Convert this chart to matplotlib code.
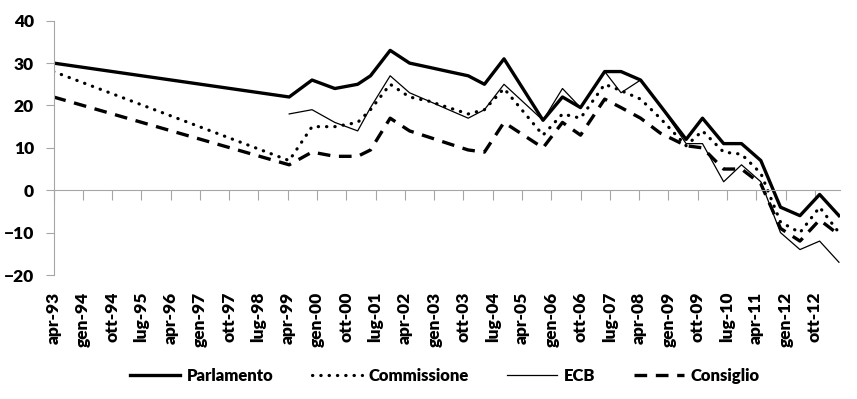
import matplotlib
matplotlib.use("Agg")
import matplotlib.pyplot as plt
import matplotlib.dates as mdates
import numpy as np
import pandas as pd

plt.rcParams["font.family"] = ["Lato", "DejaVu Sans"]

# survey dates
dates = [
    "1993-04-01", "1999-04-15", "1999-11-15", "2000-06-15", "2001-01-15",
    "2001-05-15", "2001-11-15", "2002-05-15", "2002-11-15", "2003-05-15",
    "2003-11-15", "2004-04-15", "2004-10-15", "2005-10-15", "2006-04-15",
    "2006-10-01", "2007-05-15", "2007-10-15", "2008-04-15", "2008-10-15",
    "2009-06-15", "2009-11-15", "2010-06-01", "2010-11-15", "2011-05-15",
    "2011-11-15", "2012-05-15", "2012-11-15", "2013-05-15",
]

parlamento = [30, 22, 26, 24, 25, 27, 33, 30, 29, 28, 27, 25, 31, 16.5, 22,
              19.5, 28, 28, 26, 20, 12, 17, 11, 11, 7, -4, -6, -1, -6]
commissione = [28, 7, 15, 15, 16, 19, 25, 22, 21, 19.5, 18, 19, 24, 13, 18,
               17, 25, 23.5, 21.5, 17, 10.5, 14, 9, 8.5, 4, -7.5, -10, -4, -10]
ecb = [np.nan, 18, 19, 16, 14, 19.5, 27, 23, 21, 19, 17, 19, 25, 16.5, 24,
       19.5, 28, 23, 26, 20, 11, 11, 2, 6, 2, -10, -14, -12, -17]
consiglio = [22, 6, 9, 8, 8, 9.5, 17, 14, 12.5, 11, 9.5, 9, 16, 10, 16,
             13, 21.5, 19.5, 17, 13.5, 10.5, 10, 5, 5, 1.5, -9, -12, -7, -10.5]

tick_labels = [
    "apr-93", "gen-94", "ott-94", "lug-95", "apr-96", "gen-97", "ott-97",
    "lug-98", "apr-99", "gen-00", "ott-00", "lug-01", "apr-02", "gen-03",
    "ott-03", "lug-04", "apr-05", "gen-06", "ott-06", "lug-07", "apr-08",
    "gen-09", "ott-09", "lug-10", "apr-11", "gen-12", "ott-12",
]

x = mdates.date2num(pd.to_datetime(dates))
ticks = mdates.date2num(pd.date_range("1993-04-01", periods=len(tick_labels), freq="9MS"))

GRAY = "#a6a6a6"
WEIGHT = "heavy"

fig = plt.figure(figsize=(8.57, 3.99), dpi=100)
ax = fig.add_axes([53.5 / 857, 1 - 275 / 399, (839.5 - 53.5) / 857, (275 - 20.7) / 399])

ax.plot(x, parlamento, color="black", lw=2.4, label="Parlamento")
ax.plot(x, commissione, color="black", lw=2.3, linestyle=(0, (0.1, 2.5)),
        dash_capstyle="round", label="Commissione")
ax.plot(x, ecb, color="black", lw=0.9, label="ECB")
ax.plot(x, consiglio, color="black", lw=2.4, linestyle=(0, (3.8, 2.6)),
        label="Consiglio")

ax.set_xlim(mdates.date2num(pd.Timestamp("1993-04-01")),
            mdates.date2num(pd.Timestamp("2013-05-20")))
ax.set_ylim(-20, 40)
ax.set_yticks(range(-20, 41, 10))

for s in ("top", "right"):
    ax.spines[s].set_visible(False)
ax.spines["left"].set_color(GRAY)
ax.spines["bottom"].set_color(GRAY)
ax.spines["bottom"].set_position(("data", 0))

ax.set_xticks(ticks)
ax.tick_params(axis="x", length=7, color=GRAY, labelbottom=False)
ax.tick_params(axis="y", length=6, color=GRAY, pad=8, labelsize=12.5)
for t in ax.get_yticklabels():
    t.set_fontweight(WEIGHT)

lab = ax.secondary_xaxis("bottom")
lab.set_xticks(ticks, tick_labels, rotation=90, fontsize=12.5, fontweight=WEIGHT)
lab.tick_params(length=0, pad=12)
lab.spines["bottom"].set_visible(False)

fig.legend(loc="center", bbox_to_anchor=(445 / 857, 1 - 376 / 399), ncol=4,
           frameon=False, prop={"size": 12, "weight": WEIGHT},
           handlelength=3.0, handletextpad=0.4, columnspacing=2.3)

fig.savefig("out.png", dpi=100)
